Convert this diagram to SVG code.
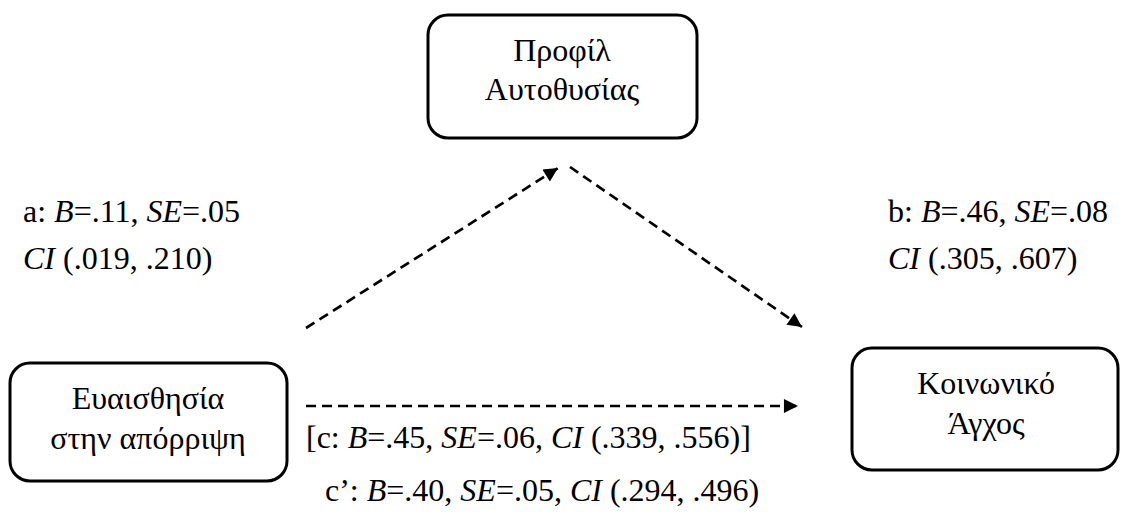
<svg xmlns="http://www.w3.org/2000/svg" width="1123" height="523" viewBox="0 0 1123 523">
  <style>
    text { font-family: "Liberation Serif", "Times New Roman", serif; font-size: 32px; fill: #000; }
    .mid { text-anchor: middle; }
    .it { font-style: italic; }
    .box { fill: #fff; stroke: #000; stroke-width: 3; }
    .dash { fill: none; stroke: #000; stroke-width: 2.7; stroke-dasharray: 10 6; }
  </style>
  <defs>
    <marker id="arrow" viewBox="0 0 10 10" refX="10" refY="5" markerWidth="6" markerHeight="5.2" markerUnits="strokeWidth" orient="auto">
      <path d="M0,0 L10,5 L0,10 z" fill="#000"/>
    </marker>
  </defs>
  <rect width="1123" height="523" fill="#fff"/>

  <!-- mediator -->
  <g id="node-mediator">
    <rect class="box" x="428" y="15" width="269" height="123" rx="20"/>
    <text class="mid" x="562" y="61">Προφίλ</text>
    <text class="mid" x="562" y="100">Αυτοθυσίας</text>
  </g>

  <!-- predictor -->
  <g id="node-predictor">
    <rect class="box" x="10" y="363" width="277" height="118" rx="20"/>
    <text class="mid" x="148" y="409">Ευαισθησία</text>
    <text class="mid" x="148" y="449">στην απόρριψη</text>
  </g>

  <!-- outcome -->
  <g id="node-outcome">
    <rect class="box" x="852" y="348" width="266" height="122" rx="20"/>
    <text class="mid" x="986" y="394">Κοινωνικό</text>
    <text class="mid" x="986" y="434">Άγχος</text>
  </g>

  <!-- paths a, b and c -->
  <g id="connectors">
    <line class="dash" x1="306" y1="328" x2="558" y2="168" marker-end="url(#arrow)"/>
    <line class="dash" x1="570" y1="167" x2="802" y2="327" marker-end="url(#arrow)"/>
    <line class="dash" x1="306" y1="406" x2="798" y2="406" marker-end="url(#arrow)"/>
  </g>

  <!-- path coefficients -->
  <g id="labels">
    <text x="23" y="222">a: <tspan class="it">B</tspan>=.11, <tspan class="it">SE</tspan>=.05</text>
    <text x="23" y="269"><tspan class="it">CI</tspan> (.019, .210)</text>
    <text x="888" y="222">b: <tspan class="it">B</tspan>=.46, <tspan class="it">SE</tspan>=.08</text>
    <text x="888" y="269"><tspan class="it">CI</tspan> (.305, .607)</text>
    <text x="306" y="448">[c: <tspan class="it">B</tspan>=.45, <tspan class="it">SE</tspan>=.06, <tspan class="it">CI</tspan> (.339, .556)]</text>
    <text x="325" y="501">c’: <tspan class="it">B</tspan>=.40, <tspan class="it">SE</tspan>=.05, <tspan class="it">CI</tspan> (.294, .496)</text>
  </g>
</svg>
